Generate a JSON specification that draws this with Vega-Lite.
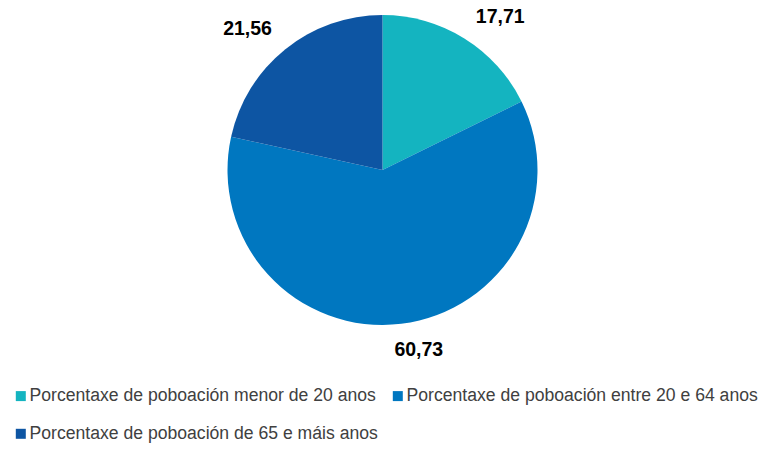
{
  "$schema": "https://vega.github.io/schema/vega-lite/v6.json",
  "width": 765,
  "height": 340,
  "autosize": {"type": "none"},
  "padding": {"left": 0, "top": 0, "right": 0, "bottom": 109},
  "background": "white",
  "config": {
    "view": {"stroke": null},
    "locale": {"number": {"decimal": ",", "thousands": ".", "grouping": [3], "currency": ["", " €"]}},
    "text": {"font": "Liberation Sans, sans-serif", "fontWeight": "bold", "fontSize": 19.5, "fill": "#000000", "radius": 185}
  },
  "data": {
    "values": [
      {"grupo": "Porcentaxe de poboación menor de 20 anos", "valor": 17.71, "orde": 1},
      {"grupo": "Porcentaxe de poboación entre 20 e 64 anos", "valor": 60.73, "orde": 2},
      {"grupo": "Porcentaxe de poboación de 65 e máis anos", "valor": 21.56, "orde": 3}
    ]
  },
  "encoding": {
    "theta": {"field": "valor", "type": "quantitative", "stack": true},
    "order": {"field": "orde", "type": "quantitative"}
  },
  "layer": [
    {
      "mark": {"type": "arc", "outerRadius": 155},
      "encoding": {
        "color": {
          "field": "grupo",
          "type": "nominal",
          "sort": null,
          "scale": {
            "domain": ["Porcentaxe de poboación menor de 20 anos", "Porcentaxe de poboación entre 20 e 64 anos", "Porcentaxe de poboación de 65 e máis anos"],
            "range": ["#14B4C0", "#0077C0", "#0D55A3"]
          },
          "legend": {
            "orient": "none",
            "direction": "horizontal",
            "legendX": 12,
            "legendY": 387,
            "columns": 2,
            "title": null,
            "symbolType": "square",
            "symbolSize": 100,
            "symbolStrokeWidth": 0,
            "labelFont": "Liberation Sans, sans-serif",
            "labelFontSize": 17.6,
            "labelColor": "#404040",
            "labelLimit": 0,
            "labelOffset": 0,
            "columnPadding": 11,
            "rowPadding": 19,
            "padding": 0
          }
        }
      }
    },
    {
      "mark": {"type": "text", "dx": 20, "dy": 4},
      "encoding": {"text": {"condition": {"test": "datum.orde == 1", "field": "valor", "type": "quantitative", "format": ".2f"}, "value": ""}}
    },
    {
      "mark": {"type": "text", "dx": 14, "dy": -4},
      "encoding": {"text": {"condition": {"test": "datum.orde == 2", "field": "valor", "type": "quantitative", "format": ".2f"}, "value": ""}}
    },
    {
      "mark": {"type": "text", "dx": -19, "dy": 3},
      "encoding": {"text": {"condition": {"test": "datum.orde == 3", "field": "valor", "type": "quantitative", "format": ".2f"}, "value": ""}}
    }
  ]
}
